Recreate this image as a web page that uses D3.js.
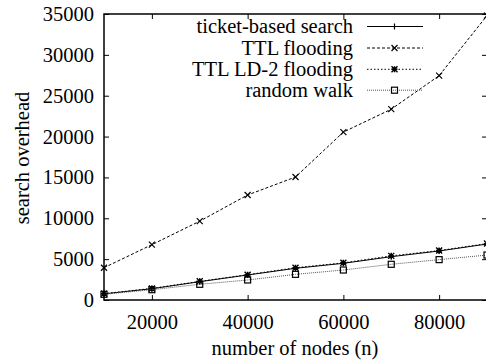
<!DOCTYPE html>
<html>
<head>
<meta charset="utf-8">
<script src="https://cdn.jsdelivr.net/npm/d3@7"></script>
<style>
  html, body { margin: 0; padding: 0; background: #fff; }
  svg { display: block; }
  svg text { font-family: "Times New Roman", "Liberation Serif", "DejaVu Serif", serif !important; fill: #000; }
</style>
</head>
<body>
<svg id="chart" width="486" height="363"></svg>
<script>
// Number of nodes on the x axis
const nodes = [10000, 20000, 30000, 40000, 50000, 60000, 70000, 80000, 90000];

// Search overhead per strategy
const ticketSearch = [750, 1380, 2240, 3060, 3880, 4490, 5300, 6000, 6850];
const ttlFlooding  = [3950, 6770, 9650, 12850, 15050, 20550, 23350, 27450, 34800];
const ttlLd2       = [780, 1420, 2280, 3100, 3950, 4550, 5400, 6050, 6900];
const randomWalk   = [700, 1260, 1920, 2450, 3140, 3670, 4370, 4940, 5500];

const seriesNames = ["ticket-based search", "TTL flooding", "TTL LD-2 flooding", "random walk"];

const xTicks = [20000, 40000, 60000, 80000];
const yTicks = [0, 5000, 10000, 15000, 20000, 25000, 30000, 35000];

const svg = d3.select("#chart");
const plotLeft = 104, plotRight = 487, plotTop = 14, plotBottom = 300;
const fontSize = 20.5;

const x = d3.scaleLinear().domain([10000, 90000]).range([plotLeft, plotRight]);
const y = d3.scaleLinear().domain([0, 35000]).range([plotBottom, plotTop]);

const series = [
  { name: seriesNames[0], values: ticketSearch, dash: null,  color: "#000", marker: "plus" },
  { name: seriesNames[1], values: ttlFlooding,  dash: "3,2", color: "#000", marker: "cross" },
  { name: seriesNames[2], values: ttlLd2,       dash: "1.5,2", color: "#000", marker: "star" },
  { name: seriesNames[3], values: randomWalk,   dash: "1,1", color: "#555", marker: "square" }
];

function drawMarker(g, type, cx, cy) {
  const s = 3;
  if (type === "plus") {
    g.append("path").attr("d", `M${cx - s},${cy}H${cx + s}M${cx},${cy - s}V${cy + s}`)
      .attr("stroke", "#000").attr("stroke-width", 1.2).attr("fill", "none");
  } else if (type === "cross") {
    g.append("path").attr("d", `M${cx - s},${cy - s}L${cx + s},${cy + s}M${cx - s},${cy + s}L${cx + s},${cy - s}`)
      .attr("stroke", "#000").attr("stroke-width", 1.2).attr("fill", "none");
  } else if (type === "star") {
    g.append("path").attr("d", `M${cx - s},${cy}H${cx + s}M${cx},${cy - s}V${cy + s}M${cx - s},${cy - s}L${cx + s},${cy + s}M${cx - s},${cy + s}L${cx + s},${cy - s}`)
      .attr("stroke", "#000").attr("stroke-width", 1.4).attr("fill", "none");
  } else if (type === "square") {
    g.append("rect").attr("x", cx - s).attr("y", cy - s).attr("width", 2 * s).attr("height", 2 * s)
      .attr("stroke", "#000").attr("stroke-width", 1.2).attr("fill", "none");
  }
}

// Plot lines and markers
const plot = svg.append("g");
const line = d3.line().x((d, i) => x(nodes[i])).y(d => y(d));
series.forEach(s => {
  plot.append("path").datum(s.values)
    .attr("d", line)
    .attr("fill", "none")
    .attr("stroke", s.color)
    .attr("stroke-width", 1)
    .attr("stroke-dasharray", s.dash);
  s.values.forEach((v, i) => drawMarker(plot, s.marker, x(nodes[i]), y(v)));
});

// Frame and inward ticks on all four sides
const axisG = svg.append("g");
axisG.append("rect")
  .attr("x", plotLeft).attr("y", plotTop)
  .attr("width", plotRight - plotLeft).attr("height", plotBottom - plotTop)
  .attr("fill", "none").attr("stroke", "#000").attr("stroke-width", 1.5);

const tickLen = 5;
const bottomAxis = d3.axisBottom(x).tickValues(xTicks).tickSize(-tickLen).tickPadding(14).tickFormat(d3.format("d"));
const topAxis = d3.axisTop(x).tickValues(xTicks).tickSize(-tickLen).tickFormat("");
const leftAxis = d3.axisLeft(y).tickValues(yTicks).tickSize(-tickLen).tickPadding(10).tickFormat(d3.format("d"));
const rightAxis = d3.axisRight(y).tickValues(yTicks).tickSize(-tickLen).tickFormat("");

function styleAxis(g) {
  g.attr("font-family", null).attr("font-size", null);
  g.select(".domain").remove();
  g.selectAll(".tick line").attr("stroke", "#000").attr("stroke-width", 1);
  g.selectAll(".tick text").attr("font-size", fontSize).attr("fill", "#000");
}
axisG.append("g").attr("transform", `translate(0,${plotBottom})`).call(bottomAxis).call(styleAxis);
axisG.append("g").attr("transform", `translate(0,${plotTop})`).call(topAxis).call(styleAxis);
axisG.append("g").attr("transform", `translate(${plotLeft},0)`).call(leftAxis).call(styleAxis);
axisG.append("g").attr("transform", `translate(${plotRight},0)`).call(rightAxis).call(styleAxis);

// Axis titles
svg.append("text")
  .attr("x", 295).attr("y", 355)
  .attr("text-anchor", "middle")
  .attr("font-size", fontSize)
  .text("number of nodes (n)");
svg.append("text")
  .attr("transform", "translate(29,158) rotate(-90)")
  .attr("text-anchor", "middle")
  .attr("font-size", fontSize)
  .text("search overhead");

// Legend
const legend = svg.append("g");
const rowY = [26.5, 48, 69.3, 90.2];
series.forEach((s, i) => {
  const ly = rowY[i];
  legend.append("text")
    .attr("x", 353).attr("y", ly)
    .attr("dy", "0.32em")
    .attr("text-anchor", "end")
    .attr("font-size", fontSize)
    .text(s.name);
  legend.append("line")
    .attr("x1", 367).attr("x2", 423)
    .attr("y1", ly).attr("y2", ly)
    .attr("stroke", s.color).attr("stroke-width", 1)
    .attr("stroke-dasharray", s.dash);
  drawMarker(legend, s.marker, 394.5, ly);
});
</script>
</body>
</html>
